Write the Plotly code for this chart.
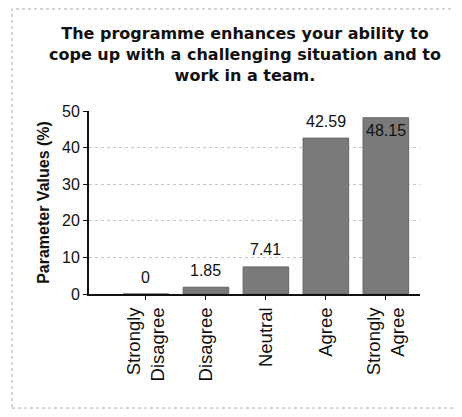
import plotly.graph_objects as go

categories = ["Strongly<br>Disagree", "Disagree", "Neutral", "Agree", "Strongly<br>Agree"]
values = [0, 1.85, 7.41, 42.59, 48.15]
labels = ["0", "1.85", "7.41", "42.59", "48.15"]
label_inside = [False, False, False, False, True]
title = "<b>The programme enhances your ability to<br>cope up with a challenging situation and to<br>work in a team.</b>"

# page body adds an 8px offset, so the figure is drawn 8px smaller
W, H = 454, 409
L, R, T, B = 81, 42, 103, 123
pw, ph = W - L - R, H - T - B

def px(x):
    return (x - L) / pw

def py(y):
    return (H - B - y) / ph

fig = go.Figure(go.Bar(
    x=categories, y=values,
    marker=dict(color="#7a7a7a", line=dict(color="#666666", width=1)),
    width=0.76,
))

for c, v, t, inside in zip(categories, values, labels, label_inside):
    fig.add_annotation(
        x=c, y=v, text=t, showarrow=False,
        yanchor="middle", yshift=-13 if inside else 17,
        font=dict(family="Liberation Sans, Arial", size=16, color="#111"),
    )

fig.update_layout(
    width=W, height=H,
    margin=dict(l=L, r=R, t=T, b=B),
    paper_bgcolor="white", plot_bgcolor="white",
    showlegend=False,
    title=dict(text=title, x=0.522, xanchor="center", y=1 - 31 / H, yanchor="top",
               font=dict(family="DejaVu Sans", size=16, color="#111")),
    font=dict(family="Liberation Sans, Arial", color="#111"),
    xaxis=dict(
        range=[-0.95, 4.57], tickangle=-90,
        tickfont=dict(size=18.5, color="#111"),
        showline=True, linecolor="#111", linewidth=2,
        ticks="outside", ticklen=4, tickcolor="#111",
        showgrid=False, zeroline=False,
    ),
    yaxis=dict(
        range=[0, 50], dtick=10,
        tickfont=dict(size=16, color="#111"),
        showline=True, linecolor="#111", linewidth=2,
        ticks="outside", ticklen=4, tickcolor="#111",
        showgrid=True, gridcolor="#c4c4c4", griddash="dot", gridwidth=1,
        zeroline=False,
        title=dict(text="<b>Parameter Values (%)</b>", font=dict(size=16, color="#111"), standoff=8),
    ),
    shapes=[dict(type="rect", xref="paper", yref="paper",
                 x0=px(4), x1=px(450), y0=py(400), y1=py(1),
                 line=dict(color="#aaaaaa", width=1, dash="dot"))],
)

fig.write_html("out.html")
